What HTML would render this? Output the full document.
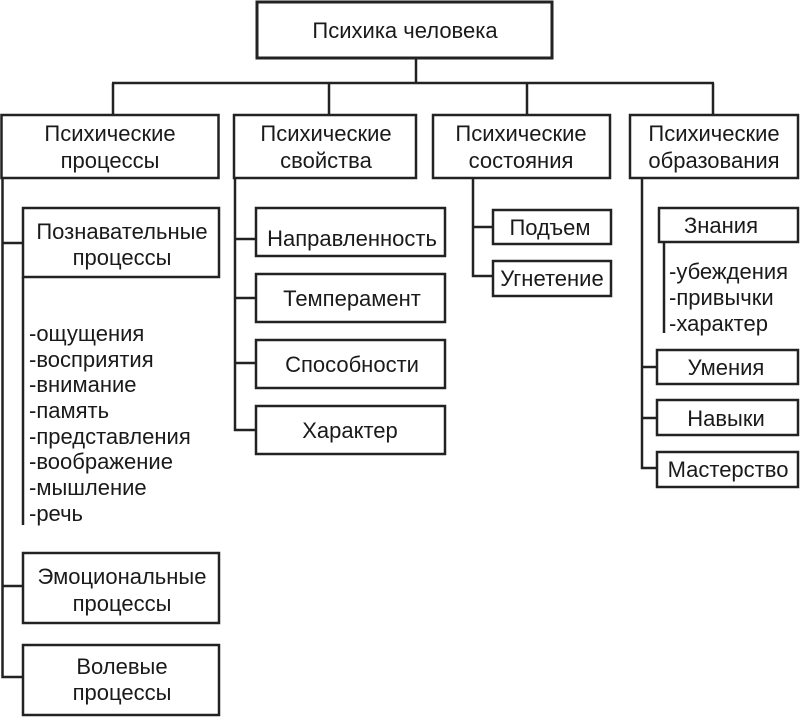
<!DOCTYPE html>
<html><head><meta charset="utf-8"><style>
html,body{margin:0;padding:0;background:#fff;}
svg text{font-family:"Liberation Sans","DejaVu Sans",sans-serif;font-size:22px;fill:#1a1a1a;}
</style></head><body>
<svg width="800" height="717" viewBox="0 0 800 717" xmlns="http://www.w3.org/2000/svg">
<g fill="none" stroke="#222" stroke-width="2.5">
<rect x="257" y="2" width="295" height="56" stroke-width="3"/>
<path d="M416 58V83M112 83H714M113 83V115M329 83V115M527 83V115M713 83V115"/>
<rect x="1.5" y="115" width="217" height="63"/>
<rect x="234" y="115" width="182" height="63"/>
<rect x="433" y="115" width="177" height="63"/>
<rect x="630" y="115" width="168" height="63"/>
<path d="M2.5 178V677H23M2.5 243H23M2.5 586H23"/>
<rect x="23" y="208" width="196" height="69"/>
<path d="M23 277V525"/>
<rect x="23" y="553" width="196" height="70"/>
<rect x="23" y="645" width="196" height="70"/>
<path d="M235 178V430H256M235 239H256M235 298H256M235 363H256"/>
<rect x="256" y="208" width="189" height="48"/>
<rect x="256" y="274" width="189" height="48"/>
<rect x="256" y="340" width="189" height="48"/>
<rect x="256" y="406" width="189" height="48"/>
<path d="M473 178V276H493M473 227H493"/>
<rect x="493" y="210" width="118" height="34"/>
<rect x="493" y="261" width="118" height="35"/>
<path d="M642 178V468H657M642 367H657M642 418H657"/>
<rect x="659" y="208" width="139" height="34"/>
<path d="M664 242V333"/>
<rect x="657" y="350" width="141" height="34"/>
<rect x="657" y="400" width="141" height="35"/>
<rect x="657" y="452" width="141" height="35"/>
</g>
<g text-anchor="middle">
<text x="405" y="38">Психика человека</text>
<text x="110" y="141">Психические</text><text x="110" y="168">процессы</text>
<text x="326" y="141">Психические</text><text x="326" y="168">свойства</text>
<text x="521" y="141">Психические</text><text x="521" y="168">состояния</text>
<text x="714" y="141">Психические</text><text x="714" y="168">образования</text>
<text x="122" y="239">Познавательные</text><text x="122" y="265">процессы</text>
<text x="122" y="584">Эмоциональные</text><text x="122" y="611">процессы</text>
<text x="122" y="674">Волевые</text><text x="122" y="700">процессы</text>
<text x="352" y="246">Направленность</text>
<text x="352" y="306">Темперамент</text>
<text x="352" y="372">Способности</text>
<text x="350" y="438">Характер</text>
<text x="550" y="235">Подъем</text>
<text x="552" y="286">Угнетение</text>
<text x="721" y="233">Знания</text>
<text x="726" y="375">Умения</text>
<text x="726" y="426">Навыки</text>
<text x="728" y="477">Мастерство</text>
</g>
<g>
<text x="29" y="341">-ощущения</text>
<text x="29" y="367">-восприятия</text>
<text x="29" y="392">-внимание</text>
<text x="29" y="418">-память</text>
<text x="29" y="444">-представления</text>
<text x="29" y="469">-воображение</text>
<text x="29" y="495">-мышление</text>
<text x="29" y="521">-речь</text>
<text x="669" y="279">-убеждения</text>
<text x="669" y="305">-привычки</text>
<text x="669" y="331">-характер</text>
</g>
</svg>
</body></html>
